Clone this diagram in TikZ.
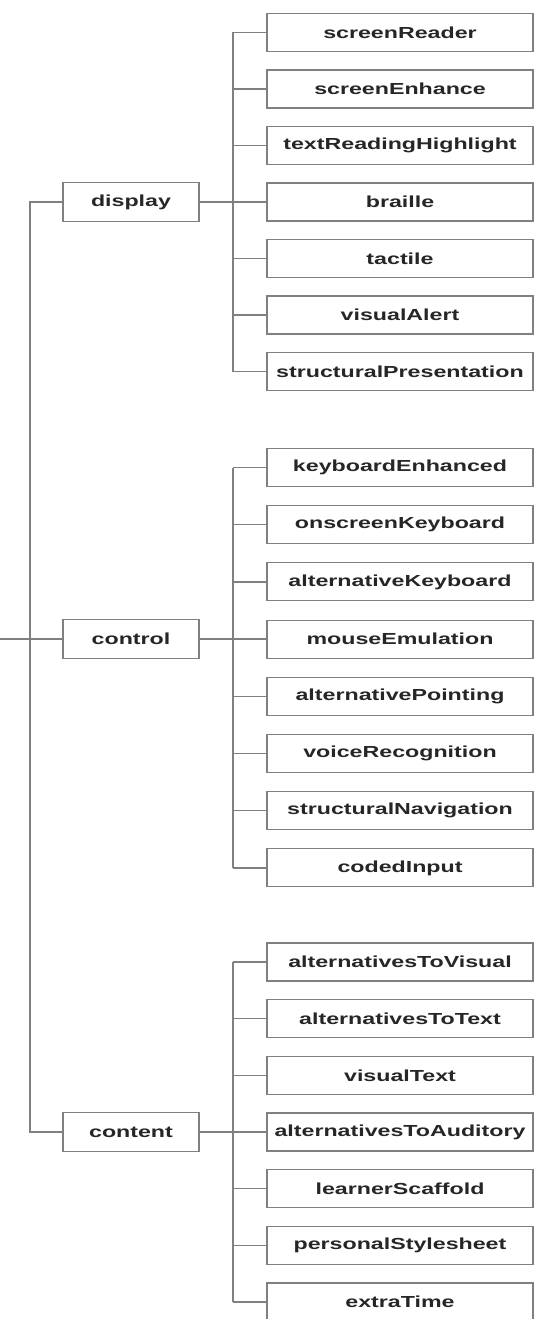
\documentclass[tikz,border=0pt]{standalone}
\usepackage{fontspec}
\newfontfamily\boxfont[FakeStretch=1.45]{Liberation Sans}
\begin{document}
\begin{tikzpicture}[x=1pt,y=-1pt,
  conn/.style={draw=black!50, line width=1.4pt},
  rbox/.style={draw=black!50, line width=1.1pt, fill=white, minimum width=266pt, minimum height=38pt, inner sep=0pt, text=black!85, font=\boxfont\bfseries\fontsize{16}{18}\selectfont},
  lbox/.style={rbox, minimum width=136pt, minimum height=39pt}]
\useasboundingbox (0,0) rectangle (536,1319);
\coordinate (busx) at (233,0);
\coordinate (leftx) at (30,0);
\coordinate (edgex) at (0,0);
% display group
\foreach \n/\t [count=\i from 0] in {d1/screenReader,d2/screenEnhance,d3/textReadingHighlight,d4/braille,d5/tactile,d6/visualAlert,d7/structuralPresentation}
  \node[rbox] (\n) at (400,32.5+56.5*\i) {\t};
\node[lbox] (display) at (131,202) {display};
% control group
\foreach \n/\t [count=\i from 0] in {c1/keyboardEnhanced,c2/onscreenKeyboard,c3/alternativeKeyboard,c4/mouseEmulation,c5/alternativePointing,c6/voiceRecognition,c7/structuralNavigation,c8/codedInput}
  \node[rbox] (\n) at (400,467.5+57.2*\i) {\t};
\node[lbox] (control) at (131,639) {control};
% content group
\foreach \n/\t [count=\i from 0] in {t1/alternativesToVisual,t2/alternativesToText,t3/visualText,t4/alternativesToAuditory,t5/learnerScaffold,t6/personalStylesheet,t7/extraTime}
  \node[rbox] (\n) at (400,962+56.67*\i) {\t};
\node[lbox] (content) at (131,1132) {content};
% buses
\draw[conn] (d1.west -| busx) -- (d7.west -| busx);
\draw[conn] (c1.west -| busx) -- (c8.west -| busx);
\draw[conn] (t1.west -| busx) -- (t7.west -| busx);
\foreach \n in {d1,d2,d3,d4,d5,d6,d7,c1,c2,c3,c4,c5,c6,c7,c8,t1,t2,t3,t4,t5,t6,t7}
  \draw[conn] (\n.west) -- (\n.west -| busx);
\foreach \n in {display,control,content}
  \draw[conn] (\n.east) -- (\n.east -| busx);
% root
\draw[conn] (display.west) -- (display.west -| leftx) -- (content.west -| leftx) -- (content.west);
\draw[conn] (control.west) -- (control.west -| edgex);
\end{tikzpicture}
\end{document}
